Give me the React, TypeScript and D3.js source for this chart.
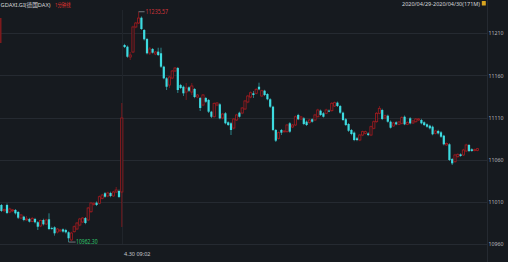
import React from "react";
import * as d3 from "d3";

// ---- data (1-minute bars, GDAXI.GI) ----
const opens = [
  11006.3, 10999.5, 11006.3, 10998, 10999.8, 11000.4, 10998, 10990.8, 10992.4, 10988.5,
  10989.7, 10986.7, 10989.7, 10985.8, 10981.4, 10988.5, 10983.7, 10989.3, 10979, 10979.8,
  10974.2, 10975.4, 10977.4, 10976.6, 10973.9, 10964.8, 10974.6, 10977.8, 10982.5, 10986.1,
  10990.8, 10988.5, 10998.3, 11006.9, 11009.0, 11008.3, 11014.2, 11020.2, 11017, 11020.5,
  11017, 11021.7, 11022.9, 11021.7, 11196.1, 11194.1, 11181.9, 11187.8, 11217.5, 11222.2,
  11228.5, 11213.9, 11203.2, 11186.6, 11191.4, 11185.4, 11188.2, 11186.3, 11170.4, 11156.6,
  11148.6, 11156.9, 11165.3, 11168.8, 11148.6, 11146.6, 11140.3, 11145.9, 11140.3, 11143.9,
  11134.4, 11133.2, 11124.9, 11133.2, 11130.9, 11117.0, 11111.0, 11124.9, 11125.7, 11109.5,
  11115.1, 11104.4, 11103.2, 11097.6, 11107.1, 11115.8, 11115.4, 11120.2, 11128.5, 11134.4,
  11138.8, 11138.8, 11146.6, 11135.6, 11141.9, 11138.0, 11131.7, 11122.9, 11095.3, 11085.4,
  11095.3, 11093.5, 11093.3, 11103.2, 11098.8, 11101.2, 11113.1, 11108.3, 11109.1, 11105.1,
  11103.9, 11108.0, 11107.1, 11111.0, 11118.2, 11115.1, 11115.1, 11118.2, 11118.2, 11123.7,
  11127.7, 11123.7, 11115.8, 11108.0, 11102.4, 11095.3, 11092.1, 11085.4, 11083.4, 11089.3,
  11091.3, 11091.1, 11089.3, 11097.3, 11105.1, 11115.1, 11119.0, 11109.5, 11112.2, 11105.1,
  11100.0, 11104.4, 11102.0, 11103.2, 11111.0, 11102.0, 11109.1, 11103.6, 11105.1, 11107.1,
  11107.1, 11104.4, 11102.0, 11100.4, 11099.2, 11091.3, 11094.1, 11092.5, 11088.5, 11077.5,
  11078.3, 11060.8, 11057.6, 11063.6, 11066.4, 11065.6, 11070.3, 11077.5, 11072.4, 11070.9,
  11070.9,
];
const closes = [
  10999.2, 11001, 10996.8, 11001.5, 11000.4, 10996.4, 10991.2, 10994.4, 10988.5, 10989.7,
  10986.5, 10990.3, 10985.8, 10980.5, 10987.9, 10983.4, 10988.5, 10977.8, 10978, 10972.7,
  10977.8, 10976.6, 10974.8, 10973.9, 10966.8, 10973.0, 10980.5, 10984.9, 10989.7, 10990.8,
  10984.9, 11002.7, 11008.6, 11008.3, 11006.3, 11016.1, 11018.1, 11016.1, 11020.5, 11017,
  11021.7, 11024.1, 11015.8, 11109.5, 11193.7, 11182.2, 11184.2, 11217.5, 11222.2, 11228.1,
  11215.1, 11202.9, 11186.3, 11191.4, 11187.0, 11187.8, 11184.2, 11170.4, 11156.6, 11146.6,
  11158.1, 11165.3, 11168.8, 11142.7, 11145.1, 11138.8, 11145.1, 11141.9, 11147.5, 11134.4,
  11136.8, 11121.4, 11136.8, 11128.8, 11117.0, 11111.0, 11126.9, 11127.3, 11109.1, 11114.2,
  11103.2, 11101.2, 11095.3, 11108.3, 11113.1, 11111.0, 11121.4, 11129.7, 11135.6, 11139.5,
  11136.8, 11143.5, 11143.5, 11141.9, 11136.8, 11131.7, 11122.9, 11095.3, 11082.6, 11092.1,
  11092.1, 11094.1, 11101.2, 11093.3, 11101.2, 11111.0, 11108.0, 11110.7, 11102.4, 11101.2,
  11107.1, 11105.1, 11113.1, 11119.0, 11113.1, 11111.0, 11119.0, 11117.5, 11126.9, 11127.7,
  11123.7, 11115.8, 11107.1, 11101.2, 11094.4, 11090.5, 11083.4, 11083.4, 11089.3, 11093.3,
  11093.3, 11089.3, 11099.2, 11105.1, 11115.1, 11121.0, 11108.3, 11112.2, 11105.1, 11098.0,
  11103.6, 11102.0, 11104.8, 11109.9, 11102.0, 11104.4, 11103.2, 11106.0, 11108.3, 11108.3,
  11103.2, 11101.2, 11099.2, 11097.3, 11090.2, 11094.1, 11091.3, 11087.3, 11078.3, 11079.2,
  11059.7, 11055.7, 11065.6, 11066.4, 11064.4, 11071.5, 11077.5, 11070.3, 11070.3, 11071.9,
  11073.1,
];
const highs = [
  11007.5, 11002, 11008, 11003, 11001.5, 11001.5, 10999, 10995.5, 10993.5, 10993.2,
  10991, 10992, 10991, 10987, 10989, 10990, 10990, 10996.4, 10980.5, 10981,
  10979, 10978, 10978.5, 10978, 10975, 10974.5, 10982, 10986, 10991, 10992,
  10992, 11004, 11010, 11009.5, 11010.5, 11017.5, 11019.5, 11021.5, 11022, 11022,
  11023, 11027.6, 11024.5, 11127.3, 11197.5, 11195.5, 11187.8, 11219, 11223.5, 11235.57,
  11230, 11215, 11204.5, 11193.7, 11192.5, 11189, 11192.9, 11192.9, 11171.5, 11158,
  11159.5, 11166.5, 11170, 11170, 11150, 11148, 11151.0, 11147, 11151.0, 11145,
  11138, 11134.5, 11138, 11134.5, 11132, 11118, 11128, 11128.5, 11127, 11115.5,
  11116.5, 11105.5, 11104.5, 11109.5, 11114.5, 11117, 11122.5, 11131, 11137, 11141,
  11141.5, 11145, 11151.4, 11143, 11143, 11139, 11133, 11124, 11096.5, 11093.5,
  11096.5, 11095, 11102.5, 11104.5, 11102.5, 11112.5, 11114.5, 11112, 11110.5, 11106.5,
  11108.5, 11109, 11114.5, 11120.5, 11119.5, 11116.5, 11120.5, 11119.5, 11128.5, 11129,
  11129, 11125, 11117, 11109.5, 11103.5, 11096.5, 11093.5, 11087, 11090.5, 11094.5,
  11094.5, 11092.5, 11100.5, 11106.5, 11116.5, 11123.7, 11120.5, 11113.5, 11113.5, 11106.5,
  11105, 11105.5, 11106, 11111.5, 11112.5, 11105.5, 11110.5, 11107, 11109.5, 11109.5,
  11108.5, 11105.5, 11103, 11101.5, 11100.5, 11095.5, 11095.5, 11094, 11089.5, 11080.5,
  11079.5, 11062, 11067, 11067.5, 11067.5, 11073, 11079, 11078.5, 11073.5, 11073,
  11074,
];
const lows = [
  10998, 10998, 10995.5, 10996.5, 10998, 10995, 10989.6, 10989.5, 10987, 10987.5,
  10985.5, 10986, 10984.5, 10976.6, 10980, 10982, 10982.5, 10976.5, 10977, 10969.9,
  10972.5, 10974, 10973.5, 10972.5, 10962.3, 10963.5, 10973.5, 10976.5, 10981, 10985,
  10983.5, 10987, 10997, 11005.5, 11005, 11007, 11013, 11015, 11015.5, 11015.5,
  11016, 11020.5, 11014.5, 10980.2, 11192.5, 11181, 11178.3, 11186.5, 11216, 11221,
  11214, 11201.5, 11185, 11184.2, 11186, 11184, 11183, 11169, 11155.5, 11142.7,
  11145.1, 11155.5, 11164, 11139.2, 11144, 11135.6, 11130.9, 11140.5, 11136.8, 11133,
  11133, 11117.8, 11123.5, 11127.5, 11115.5, 11109.5, 11110, 11123.5, 11108, 11108,
  11102, 11100, 11089.3, 11096, 11106, 11110, 11114, 11119, 11127, 11133,
  11133.2, 11137.5, 11142.5, 11134.5, 11135.5, 11130.5, 11121.5, 11094, 11081, 11084,
  11089.3, 11092.5, 11092, 11092, 11097.5, 11100, 11107, 11107, 11101, 11100,
  11103, 11104, 11106, 11110, 11112, 11110, 11114, 11116.5, 11117, 11122.5,
  11122.5, 11114.5, 11106, 11100, 11093, 11089, 11082, 11082, 11082, 11088,
  11090, 11088, 11088, 11096, 11104, 11114, 11107, 11108.5, 11104, 11097,
  11099, 11101, 11101, 11102, 11101, 11101, 11102, 11102.5, 11104, 11106,
  11102, 11100, 11098, 11096, 11089, 11090, 11090, 11086, 11077, 11076.5,
  11058.5, 11053.7, 11056.5, 11062.5, 11063.5, 11064.5, 11069, 11069, 11069.5, 11070,
  11070,
];
const yTicks = [11210, 11160, 11110, 11060, 11010, 10960];
const sessionStartIndex = 44; // first bar of 4.30
const sessionLabel = "4.30 09:02";
const titleMain = "GDAXI.GI(德国DAX)";
const titlePeriod = "1分钟线";
const rangeLabel = "2020/04/29-2020/04/30(171M)";

const W = 508;
const H = 262;
const BG = "#161a1f";
const GRID = "#252a31";
const UP = "#a31b20";
const DOWN = "#3ddbe0";

export default function App() {
  const n = opens.length;
  const x = d3
    .scaleBand<number>()
    .domain(d3.range(n))
    .range([0, n * 2.8])
    .padding(0);
  const y = d3.scaleLinear().domain([10960, 11210]).range([244, 33.3]);
  const bw = x.bandwidth();
  const cx = (i: number) => (x(i) as number) + bw / 2;
  const body = 2.2;

  const hiIdx = d3.maxIndex(highs);
  const loIdx = d3.minIndex(lows);
  const divX = (x(sessionStartIndex) as number) - 1.2;

  return (
    <svg
      width={W}
      height={H}
      style={{ position: "absolute", left: 0, top: 0, background: BG }}
      fontFamily="'Noto Sans', 'Noto Sans CJK SC', sans-serif"
    >
      <rect x={0} y={0} width={W} height={H} fill={BG} />
      {/* grid */}
      {yTicks.map((t) => (
        <line key={t} x1={0} x2={487} y1={Math.round(y(t)) + 0.5} y2={Math.round(y(t)) + 0.5} stroke={GRID} strokeWidth={1} />
      ))}
      <line x1={487.5} x2={487.5} y1={0} y2={H} stroke={GRID} strokeWidth={1} />
      <line x1={Math.round(divX) + 0.5} x2={Math.round(divX) + 0.5} y1={10} y2={244} stroke="#20252b" strokeWidth={1} />
      {/* left edge marker */}
      <rect x={0} y={18} width={1.5} height={25} fill="#7e1a1d" />

      {/* candles */}
      {opens.map((o, i) => {
        const c = closes[i];
        const up = c >= o;
        const col = up ? UP : DOWN;
        const top = y(Math.max(o, c));
        const bot = y(Math.min(o, c));
        const h = Math.max(bot - top, 0.9);
        const xc = cx(i);
        return (
          <g key={i}>
            <line x1={xc} x2={xc} y1={y(highs[i])} y2={y(lows[i])} stroke={col} strokeWidth={0.8} opacity={up ? 0.85 : 0.7} />
            {up ? (
              <rect x={xc - body / 2} y={top} width={body} height={h} fill={BG} stroke={col} strokeWidth={0.8} />
            ) : (
              <rect x={xc - body / 2} y={top} width={body} height={h} fill={col} />
            )}
          </g>
        );
      })}

      {/* high marker */}
      <line x1={cx(hiIdx)} x2={cx(hiIdx) + 6} y1={y(highs[hiIdx])} y2={y(highs[hiIdx])} stroke="#8a8f96" strokeWidth={0.8} />
      <text x={cx(hiIdx) + 7} y={y(highs[hiIdx]) + 1} fontSize={6.5} fill="#d0343a" dominantBaseline="middle" textLength={22.5} lengthAdjust="spacingAndGlyphs">
        {highs[hiIdx].toFixed(2)}
      </text>
      {/* low marker */}
      <line x1={cx(loIdx)} x2={cx(loIdx) + 7} y1={y(lows[loIdx])} y2={y(lows[loIdx])} stroke="#8a8f96" strokeWidth={0.8} />
      <text x={cx(loIdx) + 7.5} y={y(lows[loIdx])} fontSize={6.5} fill="#2fc46a" dominantBaseline="middle" textLength={21.5} lengthAdjust="spacingAndGlyphs">
        {lows[loIdx].toFixed(2)}
      </text>

      {/* right axis labels */}
      {yTicks.map((t) => (
        <text key={t} x={488.5} y={y(t) + 0.5} fontSize={6} fill="#b4b8bd" dominantBaseline="middle" textLength={15} lengthAdjust="spacingAndGlyphs">
          {t}
        </text>
      ))}

      {/* time label */}
      <text x={divX + 2} y={254.5} fontSize={6} fill="#c4c8cc" dominantBaseline="middle" textLength={26.5} lengthAdjust="spacingAndGlyphs">
        {sessionLabel}
      </text>

      {/* header */}
      <text x={0.5} y={6.5} fontSize={5.8} fill="#d4d6d9" textLength={50} lengthAdjust="spacingAndGlyphs">
        {titleMain}
      </text>
      <text x={55} y={6.5} fontSize={5.8} fill="#e0332f" textLength={15.5} lengthAdjust="spacingAndGlyphs">
        {titlePeriod}
      </text>
      <text x={402} y={5.5} fontSize={6} fill="#d4d6d9" textLength={78} lengthAdjust="spacingAndGlyphs">
        {rangeLabel}
      </text>
      <rect x={481.8} y={1} width={4} height={4.5} fill="#d9a520" rx={0.5} />
    </svg>
  );
}
